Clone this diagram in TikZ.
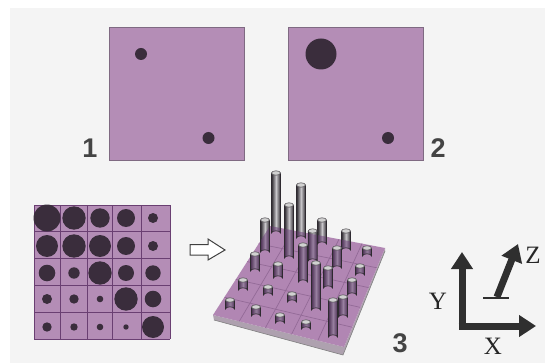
\documentclass[tikz,border=0pt]{standalone}
\usepackage{fontspec}
\setmainfont{Liberation Serif}
\newfontfamily\digitfont{Liberation Sans}
\usetikzlibrary{arrows.meta,calc}
\definecolor{bgc}{HTML}{F4F4F4}
\definecolor{plum}{HTML}{B48DB6}
\definecolor{plumedge}{HTML}{7F6A82}
\definecolor{gridc}{HTML}{6A3F72}
\definecolor{dotc}{HTML}{3A2D3C}
\definecolor{cyld}{HTML}{2E2A30}
\definecolor{cylm}{HTML}{C8C6CA}
\definecolor{cyltint}{HTML}{6A3A78}
\definecolor{txtc}{HTML}{444444}
\definecolor{axisc}{HTML}{2F2F2F}
\tikzset{
  panel/.style={fill=plum,draw=plumedge,line width=1pt},
  dotm/.style={fill=dotc,draw=none},
  numlab/.style={font=\digitfont\fontsize{27}{27}\selectfont\bfseries,text=txtc,inner sep=0pt},
  axlab/.style={font=\fontsize{25}{25}\selectfont,text=black!85,inner sep=0pt},
  axarrow/.style={draw=axisc,line width=7pt,-{Triangle[length=17pt,width=21pt]}},
}
\newcommand{\plateclip}{(213,315) -- (270,226) -- (385,248) -- (344,347) -- cycle}
\newcommand{\cyl}[3]{% x, ytop, ybottom
  \path[left color=cyld,right color=cyld,middle color=cylm,shading angle=90]
     (#1-4.5,#2) -- (#1-4.5,#3) arc[start angle=180,end angle=360,x radius=4.5,y radius=2.2] -- (#1+4.5,#2) -- cycle;
  \begin{scope}
    \clip \plateclip;
    \fill[cyltint,opacity=.5] (#1-4.5,#2) -- (#1-4.5,#3) arc[start angle=180,end angle=360,x radius=4.5,y radius=2.2] -- (#1+4.5,#2) -- cycle;
  \end{scope}
  \draw[line width=.6pt,draw=cyld] (#1-4.5,#2) -- (#1-4.5,#3) arc[start angle=180,end angle=360,x radius=4.5,y radius=2.2] -- (#1+4.5,#2);
  \path[fill=white!82!black,draw=cyld!80,line width=.6pt] (#1,#2) ellipse[x radius=4.5,y radius=2.2];
}
\begin{document}
\begin{tikzpicture}[x=1pt,y=-1pt]
\useasboundingbox (0,0) rectangle (545,363);
\fill[white] (0,0) rectangle (545,363);
\fill[bgc] (10,8) rectangle (545,363);
% top panels
\draw[panel] (109,28) rectangle (244,161);
\draw[panel] (288,28) rectangle (423,161);
\fill[dotm] (141,54) circle (6);
\fill[dotm] (208.5,138) circle (6);
\fill[dotm] (321,54) circle (15.5);
\fill[dotm] (388,138) circle (6);
\node[numlab] (n1) at (90,148) {1};
\node[numlab] (n2) at (438,148) {2};
% matrix
\fill[plum] (34,205) rectangle (170,339);
\foreach \x in {34,60,87,112.5,141,170} \draw[gridc,line width=.9pt] (\x,205) -- (\x,339);
\foreach \y in {205,231,258,285,312,339} \draw[gridc,line width=.9pt] (34,\y) -- (170,\y);
\foreach \x/\y/\r in {
 47/218/13.5,74/218/11.7,100/218/9.7,126/218/9,153/218/5,
 47/246/11,74/246/11.7,100/246/11,126/246/9,153/246/5,
 47/273/8.3,74/273/5.7,100/273/11.7,126/273/8,153/273/7.7,
 47/299/5,74/299/4.7,100/299/3.3,126/299/11.7,153/299/8.3,
 47/327/4.7,74/327/3.7,100/327/3.3,126/327/2.7,153/327/11}
  \fill[dotm] (\x,\y) circle (\r);
% block arrow
\draw[line width=1pt,draw=black!75,fill=white]
  (190,244.5) -- (208,244.5) -- (208,239) -- (225,250) -- (208,260) -- (208,255) -- (190,255) -- cycle;
% plate
\fill[black!40!plum!55!white] (213,315) -- (214,320) -- (343,355) -- (385,251) -- (385,248) -- (344,347) -- cycle;
\draw[line width=.6pt,black!50] (214,320) -- (343,355) -- (385,251);
\fill[plum!95!violet] \plateclip;
% plate cells
\foreach \t in {0.2,0.4,0.6,0.8}{
  \draw[gridc!45!plum,line width=.7pt] ($(213,315)!\t!(344,347)$) -- ($(270,226)!\t!(385,248)$);
  \draw[gridc!45!plum,line width=.7pt] ($(213,315)!\t!(270,226)$) -- ($(344,347)!\t!(385,248)$);
}
% cylinders back to front
\cyl{276}{173}{233}
\cyl{301}{185}{238}
\cyl{322}{220}{244}
\cyl{346}{231}{250}
\cyl{289}{205}{258}
\cyl{265}{220}{252}
\cyl{312.7}{231}{261}
\cyl{367}{248}{256}
\cyl{337}{248}{268}
\cyl{255}{254}{271}
\cyl{278}{264}{278}
\cyl{360}{266}{275}
\cyl{303}{245}{282}
\cyl{328}{268}{288}
\cyl{243}{280}{290}
\cyl{352}{280}{295}
\cyl{268}{287}{295}
\cyl{292}{294}{302}
\cyl{316}{263}{310}
\cyl{343}{297}{317}
\cyl{230}{300}{309}
\cyl{256}{307}{316}
\cyl{280}{315}{323}
\cyl{306}{322}{329}
\cyl{333}{300}{337}
\node[numlab] (n3) at (400,343) {3};
% axes
\coordinate (ytip) at (462,252);
\coordinate (xtip) at (536,326);
\coordinate (zbase) at (497,297);
\coordinate (ztip) at (518,244);
\draw[axarrow] (462,329.5) -- (ytip);
\draw[axarrow] (458.5,326) -- (xtip);
\draw[axarrow] (zbase) -- (ztip);
\draw[axisc,line width=2pt] (483,298) -- (509,298);
\node[axlab] (ly) at (438,301) {Y};
\node[axlab] (lx) at (493,346) {X};
\node[axlab] (lz) at (533,255) {Z};
\end{tikzpicture}
\end{document}
